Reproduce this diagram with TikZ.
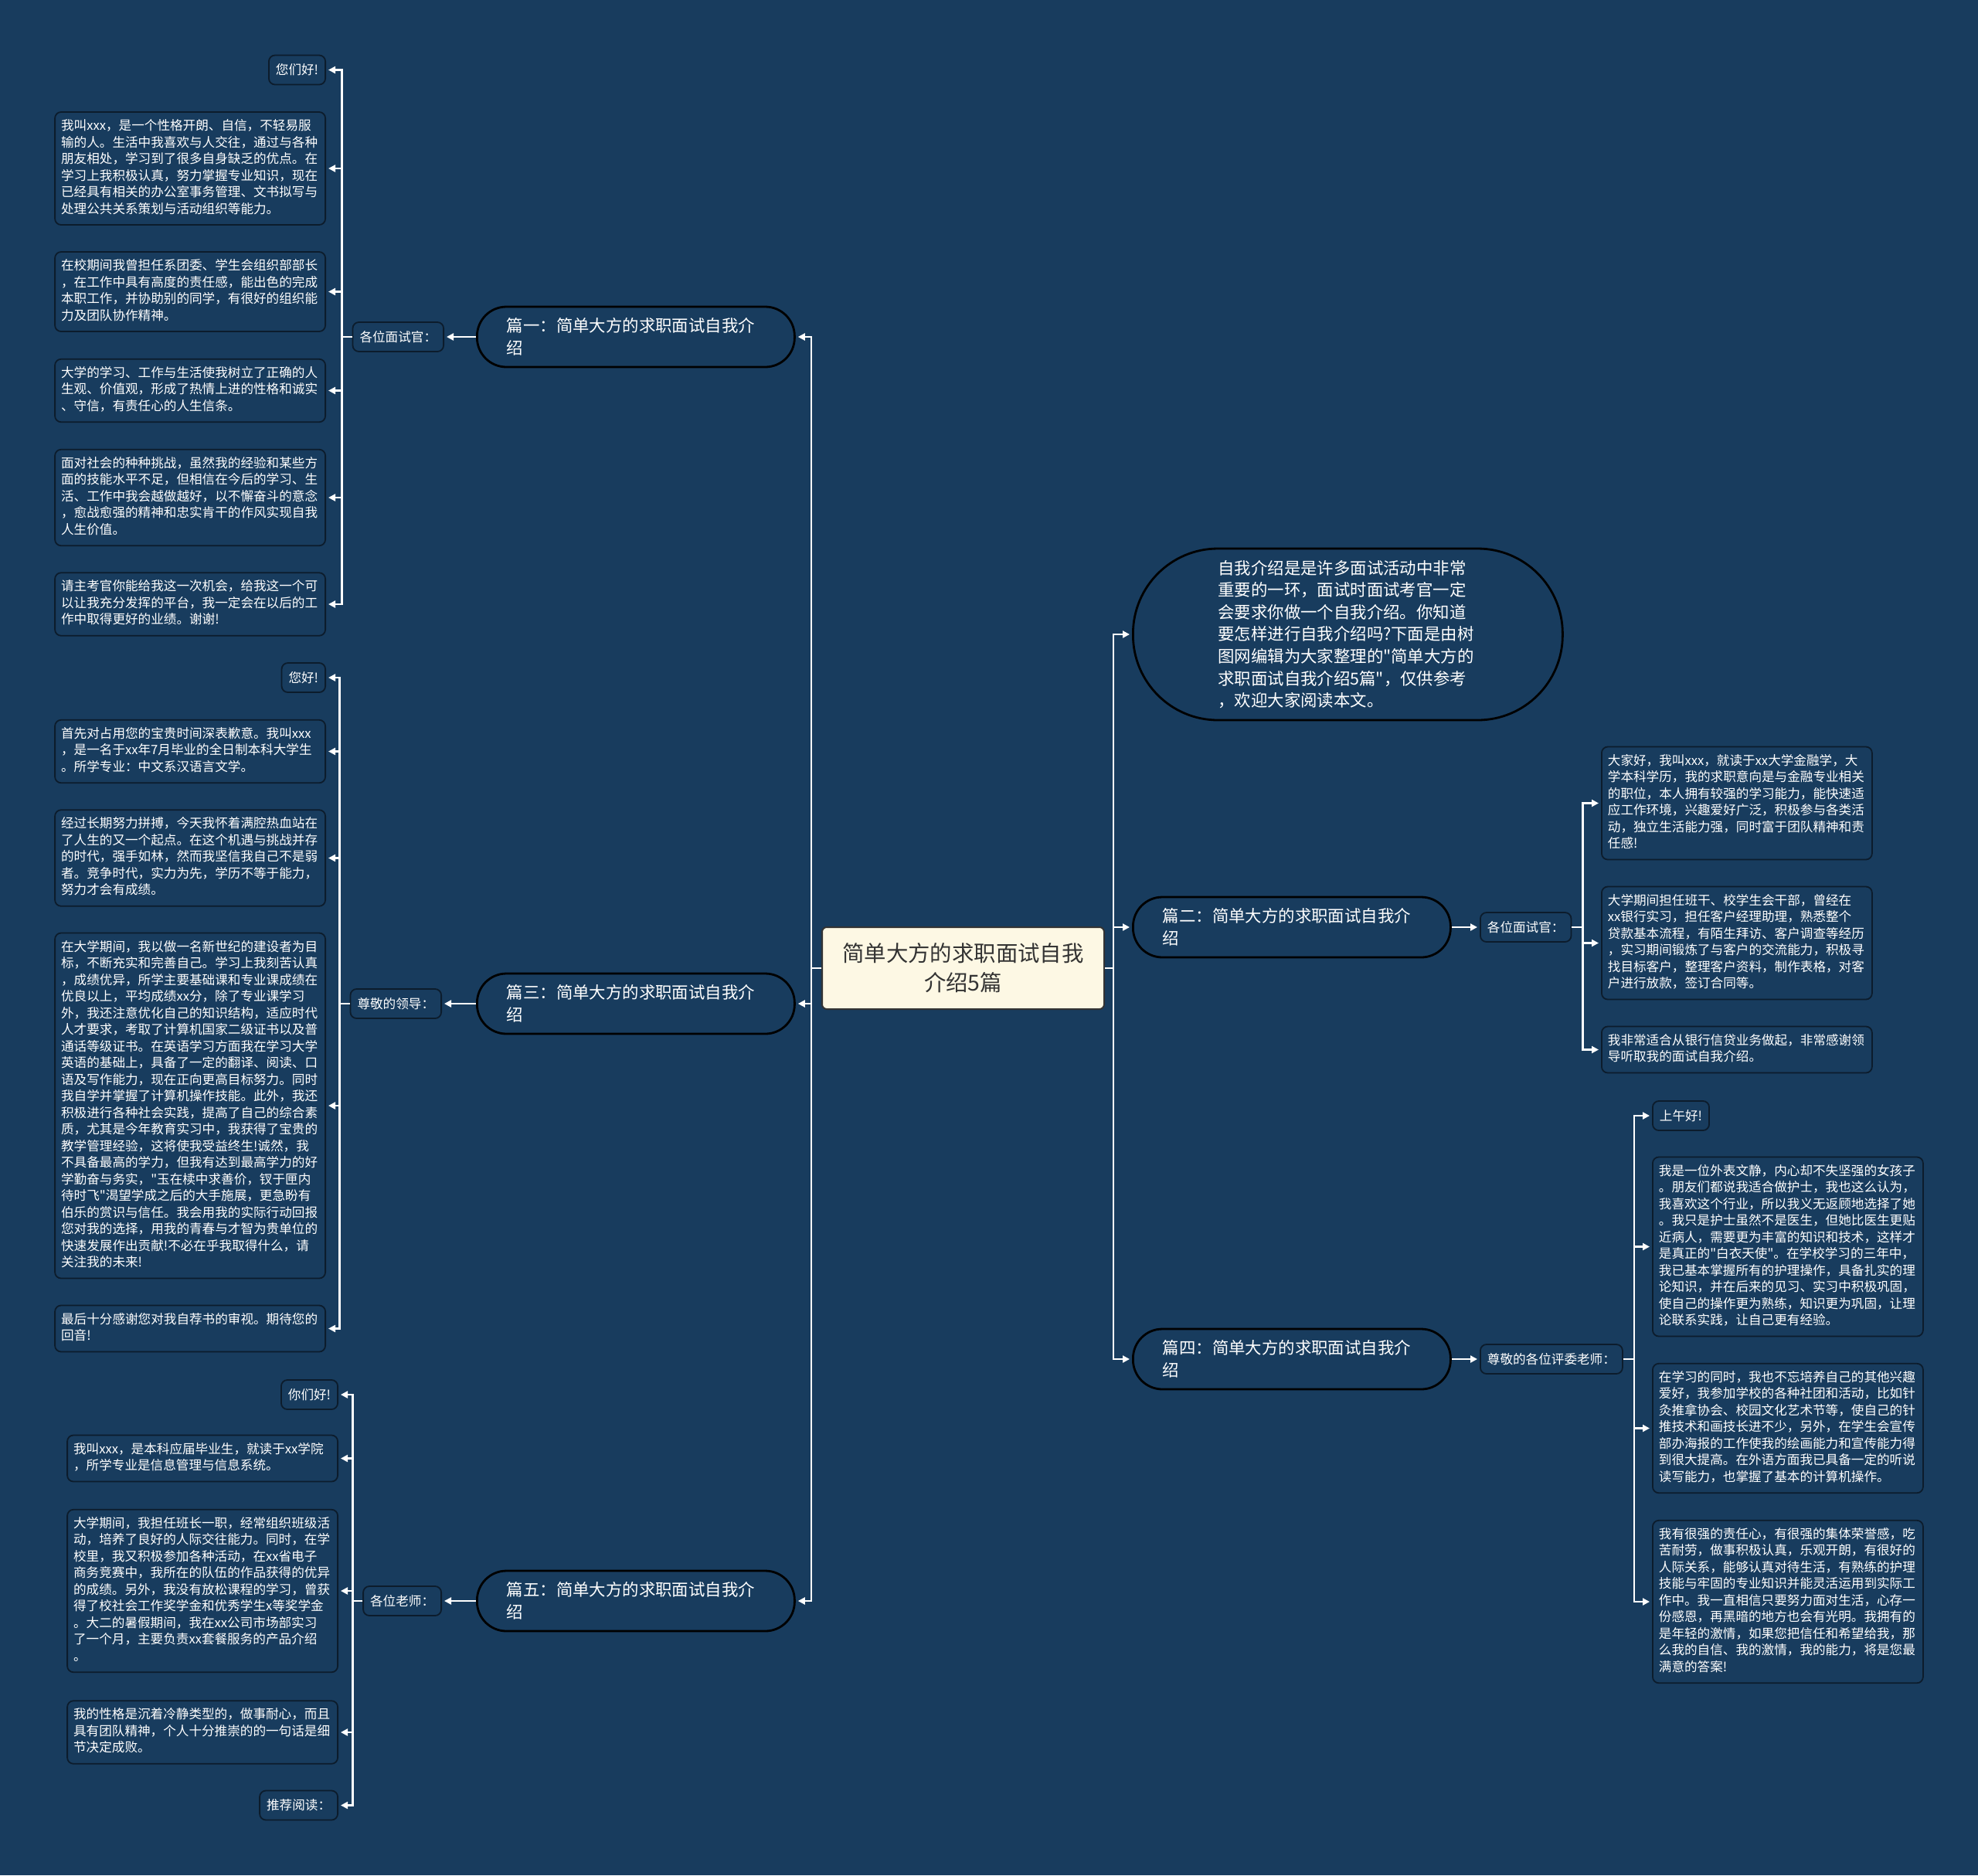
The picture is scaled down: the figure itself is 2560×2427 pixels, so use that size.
\documentclass[tikz,border=0pt]{standalone}
\usepackage{fontspec}
\setmainfont[Ligatures=TeXOff]{Noto Sans CJK SC}
\usepackage{xcolor}
\usepackage{tikz}
\usetikzlibrary{arrows.meta, positioning}

\definecolor{bg}{RGB}{24,60,94}
\definecolor{edge}{RGB}{12,28,44}
\definecolor{cream}{RGB}{253,248,228}
\newcommand{\leaffont}{\fontsize{8.3pt}{10.75pt}\selectfont}
\newcommand{\branchfont}{\fontsize{10.7pt}{14.3pt}\selectfont}
\newcommand{\titlefont}{\fontsize{14.2pt}{19pt}\selectfont}

\begin{document}
\begin{tikzpicture}[
  x=0.5pt, y=-0.5pt,
  leaf/.style={rectangle, rounded corners=4pt, draw=edge, line width=0.9pt,
               fill=bg, text=white, font=\leaffont, text width=167pt,
               inner xsep=4pt, inner ysep=4.25pt, align=left,
               execute at begin node=\strut, execute at end node=\strut},
  tag/.style={rectangle, rounded corners=4pt, draw=edge, line width=0.9pt,
              fill=bg, text=white, font=\leaffont, inner xsep=4.5pt,
              minimum height=19pt},
  branch/.style={rectangle, rounded corners=19pt, draw=black, line width=1.4pt,
                 fill=bg, text=white, font=\branchfont, text width=167pt,
                 inner xsep=19.25pt, minimum height=39pt, align=left, anchor=west},
  link/.style={white, line width=1.3pt, -{Triangle[length=4.5pt,width=4.5pt]},
               shorten >=1.5pt},
]
  % Background and page size
  \fill[bg] (0,0) rectangle (2560,2427);
  \useasboundingbox (0,0) rectangle (2560,2427);

  % Centre
  \node[rectangle, rounded corners=3pt, draw=black!80, line width=1pt, fill=cream,
        text=black!80, font=\titlefont, minimum width=182.5pt, minimum height=53pt,
        align=center] at (1246.5,1253) (title) {简单大方的求职面试自我\\介绍5篇};

  % Branches
  \node[branch] at (616,436)  (p1) {篇一：简单大方的求职面试自我介\\绍};
  \node[branch] at (616,1299) (p3) {篇三：简单大方的求职面试自我介\\绍};
  \node[branch] at (616,2072) (p5) {篇五：简单大方的求职面试自我介\\绍};
  \node[branch] at (1465,1200) (p2) {篇二：简单大方的求职面试自我介\\绍};
  \node[branch] at (1465,1759) (p4) {篇四：简单大方的求职面试自我介\\绍};
  \node[branch, rounded corners=55pt, text width=168pt, inner xsep=55pt,
        minimum height=111pt, inner ysep=3pt] at (1465,821) (intro)
    {自我介绍是是许多面试活动中非常\\重要的一环，面试时面试考官一定\\会要求你做一个自我介绍。你知道\\要怎样进行自我介绍吗?下面是由树\\图网编辑为大家整理的"简单大方的\\求职面试自我介绍5篇"，仅供参考\\，欢迎大家阅读本文。};

  % Greetings
  \node[tag, anchor=east] at (575,436)  (s1tag) {各位面试官：};
  \node[tag, anchor=east] at (572,1299) (s3tag) {尊敬的领导：};
  \node[tag, anchor=east] at (572,2072) (s5tag) {各位老师：};
  \node[tag, anchor=west] at (1915,1200) (s2tag) {各位面试官：};
  \node[tag, anchor=west] at (1915,1759) (s4tag) {尊敬的各位评委老师：};

  % Section one
  \node[tag, anchor=east] at (422,90.5) (s1a) {您们好!};
  \node[leaf, anchor=east] at (422,218) (s1b)
    {我叫xxx，是一个性格开朗、自信，不轻易服\\输的人。生活中我喜欢与人交往，通过与各种\\朋友相处，学习到了很多自身缺乏的优点。在\\学习上我积极认真，努力掌握专业知识，现在\\已经具有相关的办公室事务管理、文书拟写与\\处理公共关系策划与活动组织等能力。};
  \node[leaf, anchor=east] at (422,377.5) (s1c)
    {在校期间我曾担任系团委、学生会组织部部长\\，在工作中具有高度的责任感，能出色的完成\\本职工作，并协助别的同学，有很好的组织能\\力及团队协作精神。};
  \node[leaf, anchor=east] at (422,505.5) (s1d)
    {大学的学习、工作与生活使我树立了正确的人\\生观、价值观，形成了热情上进的性格和诚实\\、守信，有责任心的人生信条。};
  \node[leaf, anchor=east] at (422,644) (s1e)
    {面对社会的种种挑战，虽然我的经验和某些方\\面的技能水平不足，但相信在今后的学习、生\\活、工作中我会越做越好，以不懈奋斗的意念\\，愈战愈强的精神和忠实肯干的作风实现自我\\人生价值。};
  \node[leaf, anchor=east] at (422,782) (s1f)
    {请主考官你能给我这一次机会，给我这一个可\\以让我充分发挥的平台，我一定会在以后的工\\作中取得更好的业绩。谢谢!};

  % Section three
  \node[tag, anchor=east] at (422,877) (s3a) {您好!};
  \node[leaf, anchor=east] at (422,972.5) (s3b)
    {首先对占用您的宝贵时间深表歉意。我叫xxx\\，是一名于xx年7月毕业的全日制本科大学生\\。所学专业：中文系汉语言文学。};
  \node[leaf, anchor=east] at (422,1110.5) (s3c)
    {经过长期努力拼搏，今天我怀着满腔热血站在\\了人生的又一个起点。在这个机遇与挑战并存\\的时代，强手如林，然而我坚信我自己不是弱\\者。竞争时代，实力为先，学历不等于能力，\\努力才会有成绩。};
  \node[leaf, anchor=east] at (422,1431) (s3d)
    {在大学期间，我以做一名新世纪的建设者为目\\标，不断充实和完善自己。学习上我刻苦认真\\，成绩优异，所学主要基础课和专业课成绩在\\优良以上，平均成绩xx分，除了专业课学习\\外，我还注意优化自己的知识结构，适应时代\\人才要求，考取了计算机国家二级证书以及普\\通话等级证书。在英语学习方面我在学习大学\\英语的基础上，具备了一定的翻译、阅读、口\\语及写作能力，现在正向更高目标努力。同时\\我自学并掌握了计算机操作技能。此外，我还\\积极进行各种社会实践，提高了自己的综合素\\质，尤其是今年教育实习中，我获得了宝贵的\\教学管理经验，这将使我受益终生!诚然，我\\不具备最高的学力，但我有达到最高学力的好\\学勤奋与务实，"玉在椟中求善价，钗于匣内\\待时飞"渴望学成之后的大手施展，更急盼有\\伯乐的赏识与信任。我会用我的实际行动回报\\您对我的选择，用我的青春与才智为贵单位的\\快速发展作出贡献!不必在乎我取得什么，请\\关注我的未来!};
  \node[leaf, anchor=east] at (422,1719.5) (s3e)
    {最后十分感谢您对我自荐书的审视。期待您的\\回音!};

  % Section five
  \node[tag, anchor=east] at (438,1805) (s5a) {你们好!};
  \node[leaf, anchor=east] at (438,1887.5) (s5b)
    {我叫xxx，是本科应届毕业生，就读于xx学院\\，所学专业是信息管理与信息系统。};
  \node[leaf, anchor=east] at (438,2059) (s5c)
    {大学期间，我担任班长一职，经常组织班级活\\动，培养了良好的人际交往能力。同时，在学\\校里，我又积极参加各种活动，在xx省电子\\商务竞赛中，我所在的队伍的作品获得的优异\\的成绩。另外，我没有放松课程的学习，曾获\\得了校社会工作奖学金和优秀学生x等奖学金\\。大二的暑假期间，我在xx公司市场部实习\\了一个月，主要负责xx套餐服务的产品介绍\\。};
  \node[leaf, anchor=east] at (438,2242) (s5d)
    {我的性格是沉着冷静类型的，做事耐心，而且\\具有团队精神，个人十分推崇的的一句话是细\\节决定成败。};
  \node[tag, anchor=east] at (438,2336.5) (s5e) {推荐阅读：};

  % Section two
  \node[leaf, anchor=west] at (2072,1039.5) (s2a)
    {大家好，我叫xxx，就读于xx大学金融学，大\\学本科学历，我的求职意向是与金融专业相关\\的职位，本人拥有较强的学习能力，能快速适\\应工作环境，兴趣爱好广泛，积极参与各类活\\动，独立生活能力强，同时富于团队精神和责\\任感!};
  \node[leaf, anchor=west] at (2072,1220.5) (s2b)
    {大学期间担任班干、校学生会干部，曾经在\\xx银行实习，担任客户经理助理，熟悉整个\\贷款基本流程，有陌生拜访、客户调查等经历\\，实习期间锻炼了与客户的交流能力，积极寻\\找目标客户，整理客户资料，制作表格，对客\\户进行放款，签订合同等。};
  \node[leaf, anchor=west] at (2072,1358.5) (s2c)
    {我非常适合从银行信贷业务做起，非常感谢领\\导听取我的面试自我介绍。};

  % Section four
  \node[tag, anchor=west] at (2138,1444) (s4a) {上午好!};
  \node[leaf, anchor=west] at (2138,1613.5) (s4b)
    {我是一位外表文静，内心却不失坚强的女孩子\\。朋友们都说我适合做护士，我也这么认为，\\我喜欢这个行业，所以我义无返顾地选择了她\\。我只是护士虽然不是医生，但她比医生更贴\\近病人，需要更为丰富的知识和技术，这样才\\是真正的"白衣天使"。在学校学习的三年中，\\我已基本掌握所有的护理操作，具备扎实的理\\论知识，并在后来的见习、实习中积极巩固，\\使自己的操作更为熟练，知识更为巩固，让理\\论联系实践，让自己更有经验。};
  \node[leaf, anchor=west] at (2138,1848.5) (s4c)
    {在学习的同时，我也不忘培养自己的其他兴趣\\爱好，我参加学校的各种社团和活动，比如针\\灸推拿协会、校园文化艺术节等，使自己的针\\推技术和画技长进不少，另外，在学生会宣传\\部办海报的工作使我的绘画能力和宣传能力得\\到很大提高。在外语方面我已具备一定的听说\\读写能力，也掌握了基本的计算机操作。};
  \node[leaf, anchor=west] at (2138,2073) (s4d)
    {我有很强的责任心，有很强的集体荣誉感，吃\\苦耐劳，做事积极认真，乐观开朗，有很好的\\人际关系，能够认真对待生活，有熟练的护理\\技能与牢固的专业知识并能灵活运用到实际工\\作中。我一直相信只要努力面对生活，心存一\\份感恩，再黑暗的地方也会有光明。我拥有的\\是年轻的激情，如果您把信任和希望给我，那\\么我的自信、我的激情，我的能力，将是您最\\满意的答案!};

  % Connectors from the centre
  \foreach \p in {p1, p3, p5}
    \draw[link] (title.west) -- ++(-13,0) |- (\p.east);
  \foreach \p in {intro, p2, p4}
    \draw[link] (title.east) -- ++(11,0) |- (\p.west);

  % Branch to greeting
  \foreach \s in {1, 3, 5}
    \draw[link] (p\s.west) -- (s\s tag.east);
  \foreach \s in {2, 4}
    \draw[link] (p\s.east) -- (s\s tag.west);

  % Greeting to texts
  \foreach \n in {s1a, s1b, s1c, s1d, s1e, s1f}
    \draw[link] (s1tag.west) -- ++(-13,0) |- (\n.east);
  \foreach \n in {s3a, s3b, s3c, s3d, s3e}
    \draw[link] (s3tag.west) -- ++(-13,0) |- (\n.east);
  \foreach \n in {s5a, s5b, s5c, s5d, s5e}
    \draw[link] (s5tag.west) -- ++(-13,0) |- (\n.east);
  \foreach \n in {s2a, s2b, s2c}
    \draw[link] (s2tag.east) -- ++(14,0) |- (\n.west);
  \foreach \n in {s4a, s4b, s4c, s4d}
    \draw[link] (s4tag.east) -- ++(14,0) |- (\n.west);
\end{tikzpicture}
\end{document}
